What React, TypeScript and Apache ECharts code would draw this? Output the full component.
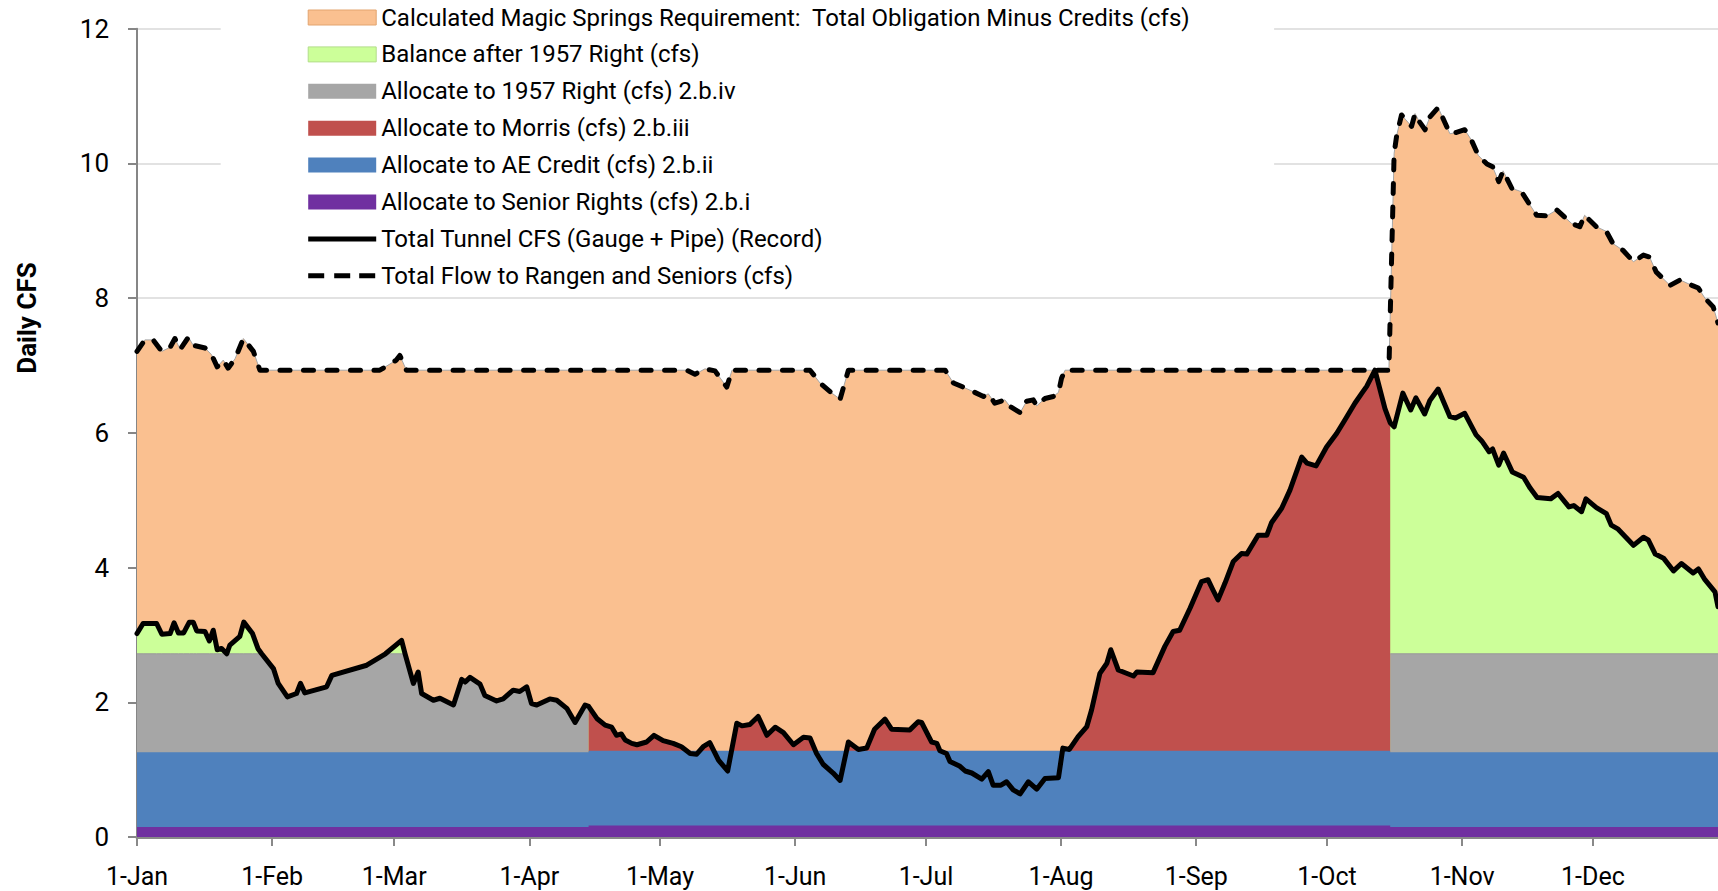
import React, { useEffect, useRef } from "react";
import * as echarts from "echarts";

// ---------- tick labels ----------
const MONTH_LABELS = ["1-Jan", "1-Feb", "1-Mar", "1-Apr", "1-May", "1-Jun", "1-Jul", "1-Aug", "1-Sep", "1-Oct", "1-Nov", "1-Dec"];
const MONTH_START_DAYS = [0, 31, 59, 90, 120, 151, 181, 212, 243, 273, 304, 334];

// ---------- Total Tunnel CFS (Gauge + Pipe) (Record), day of year ----------
const TUNNEL_DAYS = [
  0, 1.4, 4.5, 5.7, 7.6, 8.5, 9.5, 10.7, 12.0, 12.9, 13.7, 15.6, 16.6, 17.5, 18.4, 19.4, 20.6, 21.3, 23.6, 24.5,
  26.5, 27.8, 28.6, 31.3, 32.4, 34.5, 36.6, 37.5, 38.5, 43.5, 44.7, 52.7, 57.0, 60.7, 61.5, 63.4, 64.5, 65.3, 68.0, 69.5,
  72.6, 74.5, 75.3, 76.4, 78.7, 79.8, 82.5, 84.0, 86.3, 87.8, 89.4, 90.5, 91.7, 94.7, 96.3, 98.6, 100.5, 102.8, 103.6, 105.5,
  107.4, 108.9, 110.0, 111.1, 112.0, 113.5, 114.7, 116.9, 118.6, 120.7, 123.0, 124.9, 126.9, 128.4, 129.9, 131.4, 133.4, 135.5, 137.6, 138.8,
  140.6, 142.5, 144.5, 146.4, 148.3, 150.6, 152.9, 154.4, 155.9, 157.4, 159.7, 161.3, 163.2, 165.5, 167.4, 169.2, 171.6, 173.1, 177.3, 179.2,
  180.0, 182.3, 183.5, 184.2, 185.7, 186.5, 188.8, 190.0, 191.5, 193.8, 195.3, 196.4, 198.2, 199.5, 201.0, 202.6, 204.5, 206.4, 208.3, 211.4,
  212.4, 213.9, 215.9, 217.9, 219.0, 220.9, 222.5, 223.4, 225.1, 228.6, 229.4, 233.1, 235.8, 237.7, 239.2, 241.6, 244.2, 245.7, 246.9, 248.0,
  249.6, 251.5, 253.4, 254.6, 257.2, 259.2, 260.3, 262.6, 264.5, 267.2, 268.4, 270.5, 272.9, 275.2, 277.1, 279.4, 281.0, 282.1, 284.0, 286.3,
  287.5, 288.4, 290.4, 292.2, 293.4, 295.4, 296.6, 298.5, 301.2, 302.5, 304.6, 307.2, 308.5, 310.2, 311.0, 312.4, 313.5, 315.5, 318.1, 319.6,
  321.2, 324.3, 326.0, 328.5, 329.6, 331.4, 332.4, 334.8, 337.1, 338.2, 339.8, 343.3, 345.6, 346.7, 348.3, 350.2, 352.5, 354.3, 357.0, 358.2,
  359.7, 362.0, 362.7,
];
const TUNNEL_CFS = [
  3.02, 3.17, 3.17, 3.01, 3.02, 3.18, 3.03, 3.03, 3.19, 3.19, 3.06, 3.05, 2.91, 3.07, 2.78, 2.80, 2.72, 2.85, 2.98, 3.19,
  3.02, 2.79, 2.72, 2.50, 2.28, 2.08, 2.13, 2.28, 2.14, 2.23, 2.40, 2.55, 2.72, 2.92, 2.72, 2.28, 2.45, 2.13, 2.03, 2.06,
  1.96, 2.34, 2.30, 2.37, 2.27, 2.10, 2.02, 2.05, 2.18, 2.16, 2.23, 1.98, 1.96, 2.05, 2.03, 1.91, 1.70, 1.96, 1.94, 1.76,
  1.66, 1.63, 1.51, 1.53, 1.44, 1.39, 1.37, 1.41, 1.51, 1.43, 1.39, 1.34, 1.24, 1.23, 1.34, 1.40, 1.14, 0.98, 1.69, 1.65,
  1.67, 1.79, 1.51, 1.63, 1.55, 1.37, 1.48, 1.47, 1.24, 1.08, 0.95, 0.84, 1.41, 1.30, 1.32, 1.60, 1.75, 1.60, 1.59, 1.71,
  1.70, 1.41, 1.39, 1.28, 1.24, 1.12, 1.05, 0.98, 0.95, 0.86, 0.97, 0.77, 0.77, 0.82, 0.70, 0.64, 0.82, 0.71, 0.87, 0.88,
  1.32, 1.30, 1.49, 1.64, 1.89, 2.43, 2.58, 2.78, 2.48, 2.39, 2.45, 2.44, 2.83, 3.05, 3.07, 3.40, 3.79, 3.82, 3.66, 3.52,
  3.77, 4.09, 4.21, 4.20, 4.48, 4.48, 4.67, 4.88, 5.15, 5.64, 5.55, 5.51, 5.79, 5.99, 6.19, 6.44, 6.59, 6.69, 6.93, 6.36,
  6.15, 6.09, 6.59, 6.34, 6.52, 6.28, 6.48, 6.65, 6.24, 6.22, 6.29, 5.97, 5.88, 5.72, 5.76, 5.52, 5.70, 5.42, 5.34, 5.18,
  5.04, 5.02, 5.10, 4.90, 4.92, 4.83, 5.02, 4.89, 4.80, 4.63, 4.57, 4.33, 4.45, 4.41, 4.20, 4.14, 3.95, 4.06, 3.92, 3.98,
  3.82, 3.64, 3.42,
];

// ---------- Total Flow to Rangen and Seniors (cfs) ----------
const TOTAL_DAYS = [
  0, 1.8, 3.7, 5.7, 7.6, 8.7, 9.9, 11.8, 12.9, 15.6, 17.1, 18.4, 19.8, 20.9, 22.5, 24.4, 26.7, 28.2, 55.7, 59.5,
  60.3, 61.8, 126.1, 128.0, 130.3, 132.6, 135.3, 136.5, 154.4, 156.7, 159.4, 161.3, 163.2, 185.4, 187.3, 189.5, 191.9, 194.2, 195.3, 196.8,
  199.1, 200.3, 202.6, 204.1, 205.6, 206.4, 208.3, 210.2, 211.4, 212.1, 212.9, 287.2, 288.4, 289.0, 290.1, 292.4, 293.2, 294.2, 295.5, 296.6,
  298.5, 301.2, 302.7, 304.6, 306.1, 307.7, 309.7, 311.0, 312.4, 313.4, 315.4, 317.6, 319.1, 321.1, 323.4, 325.7, 329.1, 331.0, 332.1, 334.8,
  337.1, 338.6, 340.9, 343.3, 345.6, 347.0, 348.5, 351.7, 354.0, 356.7, 358.2, 359.7, 361.6, 362.7,
];
const TOTAL_CFS = [
  7.21, 7.38, 7.38, 7.21, 7.27, 7.40, 7.24, 7.42, 7.30, 7.26, 7.16, 6.98, 7.08, 6.96, 7.10, 7.40, 7.21, 6.93, 6.93, 7.08,
  7.15, 6.93, 6.93, 6.87, 6.95, 6.92, 6.68, 6.93, 6.93, 6.74, 6.59, 6.50, 6.93, 6.93, 6.74, 6.68, 6.61, 6.54, 6.58, 6.44,
  6.49, 6.39, 6.30, 6.47, 6.49, 6.40, 6.51, 6.54, 6.60, 6.81, 6.93, 6.93, 10.15, 10.42, 10.72, 10.55, 10.74, 10.62, 10.50, 10.69,
  10.83, 10.44, 10.46, 10.50, 10.35, 10.12, 9.99, 9.95, 9.73, 9.89, 9.63, 9.58, 9.43, 9.23, 9.22, 9.31, 9.11, 9.06, 9.23, 9.06,
  8.99, 8.81, 8.71, 8.54, 8.64, 8.61, 8.39, 8.19, 8.27, 8.19, 8.15, 8.00, 7.87, 7.63,
];

// ---------- allocation levels ----------
// period boundaries: Jan 1, start of Morris allocation, end of Morris allocation, last visible day
const PERIOD_BREAKS = [0, 103.6, 287.5, 362.7];
const SENIOR_TOP = [0.15, 0.17, 0.15]; // per period
const AE_CREDIT_TOP = [1.26, 1.28, 1.26]; // per period
const RIGHT_1957_TOP = 2.72;

const NAMES = {
  orange: "Calculated Magic Springs Requirement:  Total Obligation Minus Credits (cfs)",
  green: "Balance after 1957 Right (cfs)",
  gray: "Allocate to 1957 Right (cfs) 2.b.iv",
  red: "Allocate to Morris (cfs) 2.b.iii",
  blue: "Allocate to AE Credit (cfs) 2.b.ii",
  purple: "Allocate to Senior Rights (cfs) 2.b.i",
  tunnel: "Total Tunnel CFS (Gauge + Pipe) (Record)",
  total: "Total Flow to Rangen and Seniors (cfs)",
};

const COLORS = {
  orange: "#FAC090",
  green: "#CCFF99",
  gray: "#A6A6A6",
  red: "#C0504D",
  blue: "#4F81BD",
  purple: "#7030A0",
};

const FONT = "Roboto";

// legend icons for the two lines (68 x 15 box, bar in the middle)
const BOX = "M0,0h0.01v0.01h-0.01Z M67.99,14.99h0.01v0.01h-0.01Z ";
const SOLID_ICON = "path://" + BOX + "M0,5H68V10H0Z";
const DASH_ICON = "path://" + BOX + "M0,5H16V10H0Z M26,5H42V10H26Z M51,5H67V10H51Z";

export default function App() {
  const ref = useRef<HTMLDivElement>(null);

  useEffect(() => {
    if (!ref.current) return;
    document.body.style.margin = "0";
    document.documentElement.style.overflow = "hidden";
    const chart = echarts.init(ref.current, undefined, { renderer: "svg" });

    const tunnel = TUNNEL_DAYS.map((d, i) => [d, TUNNEL_CFS[i]]);
    const total = TOTAL_DAYS.map((d, i) => [d, TOTAL_CFS[i]]);
    const [p0, p1, p2, p3] = PERIOD_BREAKS;

    const gray: any[] = [
      ...tunnel.filter(([d]) => d <= p1).map(([d, v]) => [d, Math.min(v, RIGHT_1957_TOP)]),
      [(p1 + p2) / 2, "-"],
      [p2, RIGHT_1957_TOP],
      [p3, RIGHT_1957_TOP],
    ];
    const red = tunnel.filter(([d]) => d >= p1 && d <= p2);
    const steps = (lv: number[]) => [
      [p0, lv[0]], [p1, lv[0]], [p1, lv[1]], [p2, lv[1]], [p2, lv[2]], [p3, lv[2]],
    ];

    const area = (name: string, color: string, data: any[], line: any, z = 2) => ({
      name,
      type: "line",
      data,
      symbol: "none",
      z,
      itemStyle: { color },
      lineStyle: line,
      areaStyle: { color, opacity: 1 },
      emphasis: { disabled: true },
    });

    const option: any = {
      animation: false,
      textStyle: { fontFamily: FONT },
      grid: { left: 137, right: 0, top: 28.7, bottom: 54, containLabel: false },
      xAxis: {
        type: "value",
        min: 0,
        max: p3,
        axisLine: { show: true, lineStyle: { color: "#898989", width: 3 } },
        axisTick: { show: true, customValues: MONTH_START_DAYS, length: 9, lineStyle: { color: "#898989", width: 2 } },
        axisLabel: {
          customValues: MONTH_START_DAYS,
          formatter: (v: number) => MONTH_LABELS[MONTH_START_DAYS.indexOf(Math.round(v))] ?? "",
          fontSize: 25,
          lineHeight: 22,
          color: "#000",
          margin: 28,
          fontFamily: FONT,
        },
        splitLine: { show: false },
      },
      yAxis: {
        type: "value",
        min: 0,
        max: 12,
        interval: 2,
        axisLine: { show: true, lineStyle: { color: "#868686", width: 2 } },
        axisTick: { show: true, length: 9, lineStyle: { color: "#868686", width: 2 } },
        axisLabel: { fontSize: 26, color: "#000", margin: 28, fontFamily: FONT },
        splitLine: { show: true, lineStyle: { color: "#D9D9D9", width: 1.5 } },
      },
      legend: {
        orient: "vertical",
        left: 220.7,
        top: 0,
        padding: [5.5, 84, 6, 87],
        backgroundColor: "#ffffff",
        itemWidth: 68,
        itemHeight: 15,
        itemGap: 12.9,
        selectedMode: false,
        itemStyle: { borderWidth: 0 },
        textStyle: { fontSize: 24, lineHeight: 24, color: "#000", fontFamily: FONT },
        data: [
          { name: NAMES.orange, icon: "rect", itemStyle: { borderColor: "#E3A46F", borderWidth: 1 } },
          { name: NAMES.green, icon: "rect", itemStyle: { borderColor: "#B3DD8A", borderWidth: 1 } },
          { name: NAMES.gray, icon: "rect" },
          { name: NAMES.red, icon: "rect" },
          { name: NAMES.blue, icon: "rect" },
          { name: NAMES.purple, icon: "rect" },
          { name: NAMES.tunnel, icon: SOLID_ICON },
          { name: NAMES.total, icon: DASH_ICON },
        ],
      },
      graphic: [
        {
          type: "text",
          x: 27,
          y: 318,
          rotation: Math.PI / 2,
          style: {
            text: "Daily CFS",
            font: `bold 26px ${FONT}`,
            fill: "#000",
            align: "center",
            verticalAlign: "middle",
          },
        },
      ],
      series: [
        area(NAMES.orange, COLORS.orange, total, { width: 1, color: "#A6A6A6" }),
        area(NAMES.green, COLORS.green, tunnel, { width: 0 }),
        area(NAMES.gray, COLORS.gray, gray, { width: 1, color: "#9A9A9A" }),
        area(NAMES.red, COLORS.red, red, { width: 0 }),
        area(NAMES.blue, COLORS.blue, steps(AE_CREDIT_TOP), { width: 0 }),
        area(NAMES.purple, COLORS.purple, steps(SENIOR_TOP), { width: 0 }),
        {
          name: NAMES.tunnel,
          type: "line",
          data: tunnel,
          symbol: "none",
          z: 3,
          itemStyle: { color: "#000" },
          lineStyle: { color: "#000", width: 5, join: "round", cap: "round" },
          emphasis: { disabled: true },
        },
        {
          name: NAMES.total,
          type: "line",
          data: total,
          symbol: "none",
          z: 3,
          itemStyle: { color: "#000" },
          lineStyle: { color: "#000", width: 5, type: [10, 13.5], cap: "round", join: "round" },
          emphasis: { disabled: true },
        },
      ],
    };

    chart.setOption(option);
    return () => chart.dispose();
  }, []);

  return <div ref={ref} style={{ width: 1718, height: 891 }} />;
}
